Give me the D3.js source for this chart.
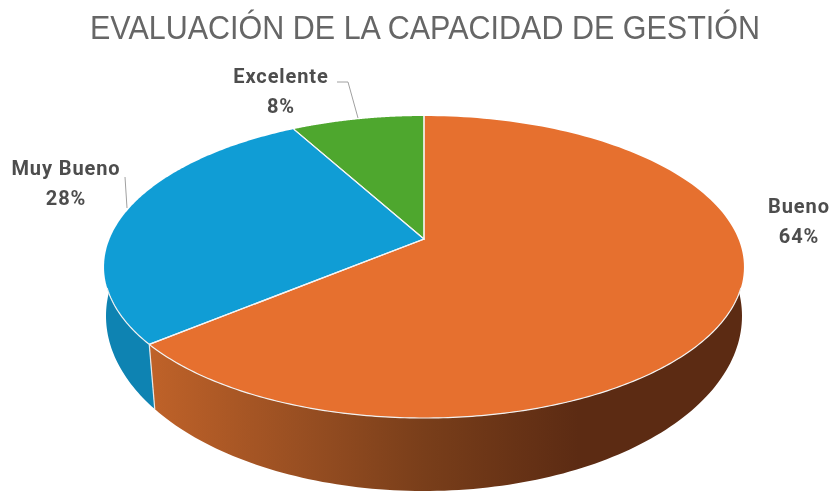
<!DOCTYPE html>
<html><head><meta charset="utf-8">
<script src="https://cdn.jsdelivr.net/npm/d3@7"></script>
<style>html,body{margin:0;padding:0;background:#fff}svg{display:block;filter:blur(0.45px)}</style>
</head><body><svg id="c" width="835" height="493"></svg>
<script>
const categories = ["Bueno","Muy Bueno","Excelente"];
const values = [64,28,8];
const labels = ["64%","28%","8%"];
const topColors = ["#E6702F","#109DD5","#4EA72E"];
const title = "EVALUACIÓN DE LA CAPACIDAD DE GESTIÓN";

const svg = d3.select("#c");
const cx = 424, apexY = 239, k = 0.1855, A = 314.4, B = 145.8;
const rim = a => { const u = Math.sin(a), v = -Math.cos(a), d = 1 - k*v;
  return [cx + A*u/d, apexY + B*v/d]; };
const low = {rx:318, cy:316, ry:175};
const lowPt = p => [cx + low.rx*Math.cos(p), low.cy + low.ry*Math.sin(p)];
const rad = d3.scaleLinear().domain([0,180]).range([0,Math.PI]);
const samples = (a0,a1,n,f) => d3.range(n+1).map(i => f(a0+(a1-a0)*i/n));
const line = d3.line();

const arcs = d3.pie().sort(null).value(d => d)(values);
const defs = svg.append("defs");
const grad = defs.append("linearGradient").attr("id","wallO").attr("gradientUnits","userSpaceOnUse")
  .attr("x1",150).attr("x2",745).attr("y1",0).attr("y2",0);
[[0,"#BF6229"],[0.25,"#994F22"],[0.46,"#793E1A"],[0.72,"#5C2B13"],[1,"#5C2B13"]]
  .forEach(s => grad.append("stop").attr("offset",s[0]).attr("stop-color",s[1]));

// side wall
const jR = rad(108.4), jL = rad(251.6);
const bound = arcs[0].endAngle;
const bx = cx + (rim(bound)[0]-cx)*0.98;
const phiB = Math.PI - Math.acos((cx-bx)/low.rx);
const phiR = Math.asin((rim(jR)[1]-low.cy)/low.ry);
const phiL = Math.PI - Math.asin((rim(jL)[1]-low.cy)/low.ry);
const wallO = samples(jR,bound,120,rim).concat(samples(phiB,phiR,120,lowPt));
const wallB = samples(bound,jL,40,rim).concat(samples(phiL,phiB,40,lowPt));
svg.append("path").attr("d",line(wallB)+"Z").attr("fill","#0E83B2");
svg.append("path").attr("d",line(wallO)+"Z").attr("fill","url(#wallO)");
svg.append("path").attr("d",line([rim(bound),lowPt(phiB)])).attr("stroke","#e8e8e8").attr("stroke-width",1.2).attr("fill","none");

// top face
svg.append("g").selectAll("path").data(arcs).join("path")
  .attr("d", d => line([[cx,apexY]].concat(samples(d.startAngle,d.endAngle,160,rim)))+"Z")
  .attr("fill",(d,i)=>topColors[i]);
svg.append("g").selectAll("path").data(arcs).join("path")
  .attr("d", d => line([rim(d.startAngle),[cx,apexY],rim(d.endAngle)]))
  .attr("fill","none").attr("stroke","#f4f4f4").attr("stroke-width",1.2);
svg.append("path").attr("d",line(samples(jR,jL,200,rim)))
  .attr("fill","none").attr("stroke","#f2f2f2").attr("stroke-width",1.2);

// leader lines
const leaders = [null,[[125,177],[127,208]],[[337,82],[348,82],[358,118]]];
svg.append("g").selectAll("path").data(leaders.filter(Boolean)).join("path")
  .attr("d",line).attr("fill","none").attr("stroke","#A0A0A0").attr("stroke-width",1);

// title
svg.append("text").attr("x",425).attr("y",39).attr("text-anchor","middle")
  .attr("font-family","Liberation Sans").attr("font-size",33)
  .attr("textLength",670).attr("lengthAdjust","spacingAndGlyphs")
  .attr("fill","#666666").text(title);

// labels
const labelPos = [[799,213,243],[66,175,205],[281,83,113]];
const lg = svg.append("g").attr("font-family","Roboto").attr("font-weight",700)
  .attr("font-size",20).attr("letter-spacing",0.9).attr("fill","#4d4d4d").attr("text-anchor","middle");
categories.forEach((c,i)=>{
  lg.append("text").attr("x",labelPos[i][0]).attr("y",labelPos[i][1]).text(c);
  lg.append("text").attr("x",labelPos[i][0]).attr("y",labelPos[i][2]).text(labels[i]);
});
</script></body></html>
